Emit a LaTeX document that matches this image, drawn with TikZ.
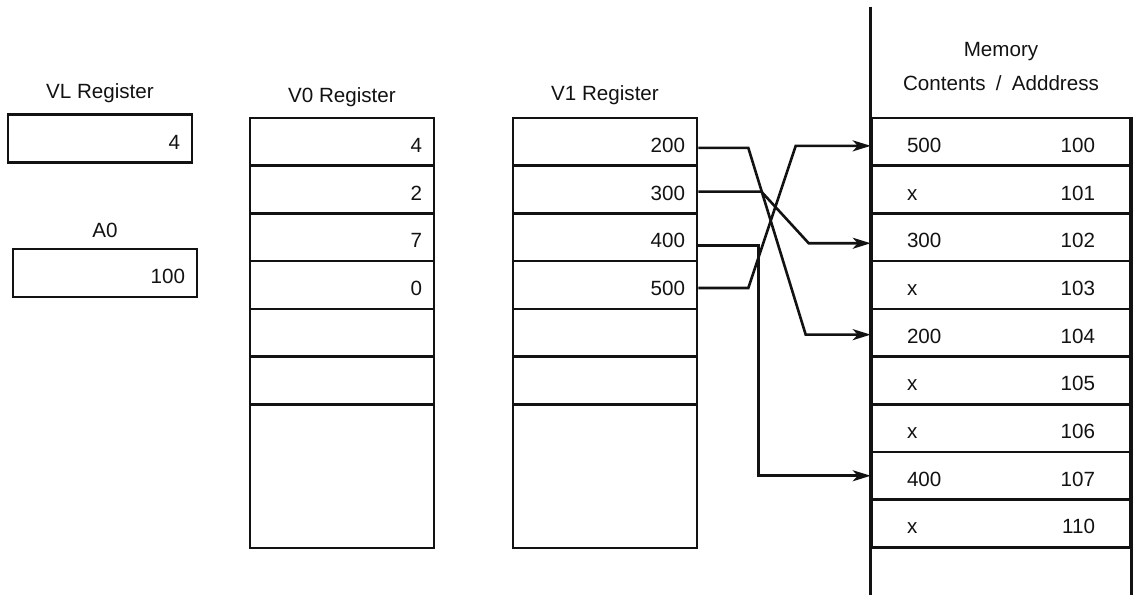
\documentclass[tikz,border=0pt]{standalone}
\usepackage{fontspec}
\setmainfont{Liberation Sans}
\usetikzlibrary{arrows.meta,positioning}
\definecolor{VecInk}{RGB}{18,18,18}
\tikzset{
  vec/cell/.style={
    draw=VecInk,
    line width=1.3pt,
    rectangle,
    minimum width=92pt,
    minimum height=23.85pt,
    text width=80pt,
    align=right,
    inner xsep=6pt,
    inner ysep=0pt,
    text height=10.5pt,
    text depth=0pt,
    text=VecInk,
    font=\fontsize{10.3}{12}\selectfont
  },
  vec/tallcell/.style={
    vec/cell,
    minimum height=95.9pt
  },
  vec/memcell/.style={
    vec/cell,
    minimum width=129pt,
    text width=94pt,
    inner xsep=17.5pt,
    align=left
  },
  vec/frame/.style={draw=VecInk, line width=1.3pt},
  vec/arrow/.style={-{Stealth[length=9pt,width=5.5pt,inset=2.5pt]}, line width=1.3pt, draw=VecInk},
  vec/title/.style={font=\fontsize{10.3}{12}\selectfont, text=VecInk, align=center, inner sep=1pt}
}

\begin{document}
\begin{tikzpicture}[x=0.5pt,y=-0.5pt]
  \useasboundingbox (0,0) rectangle (1133,595);

  % scalar registers
  \node[vec/cell] (vl) at (100,138.5) {4};
  \node[vec/title,above=4pt of vl] (vltitle) {VL Register};
  \node[vec/cell] (a0) at (105,273) {100};
  \node[vec/title,above=4pt of a0] (a0title) {A0};

  % vector register V0
  \node[vec/cell] (v0r1) at (342,141.85) {4};
  \node[vec/cell] (v0r2) at (342,189.55) {2};
  \node[vec/cell] (v0r3) at (342,237.25) {7};
  \node[vec/cell] (v0r4) at (342,284.95) {0};
  \node[vec/cell] (v0r5) at (342,332.65) {};
  \node[vec/cell] (v0r6) at (342,380.35) {};
  \node[vec/tallcell] (v0rest) at (342,452.1) {};
  \node[vec/title,above=4pt of v0r1] (v0title) {V0 Register};

  % vector register V1
  \node[vec/cell] (v1r1) at (605,141.85) {200};
  \node[vec/cell] (v1r2) at (605,189.55) {300};
  \node[vec/cell] (v1r3) at (605,237.25) {400};
  \node[vec/cell] (v1r4) at (605,284.95) {500};
  \node[vec/cell] (v1r5) at (605,332.65) {};
  \node[vec/cell] (v1r6) at (605,380.35) {};
  \node[vec/tallcell] (v1rest) at (605,452.1) {};
  \node[vec/title,above=5pt of v1r1] (v1title) {V1 Register};

  % memory
  \node[vec/memcell] (m0) at (1001,141.85) {500\hfill 100};
  \node[vec/memcell] (m1) at (1001,189.55) {x\hfill 101};
  \node[vec/memcell] (m2) at (1001,237.25) {300\hfill 102};
  \node[vec/memcell] (m3) at (1001,284.95) {x\hfill 103};
  \node[vec/memcell] (m4) at (1001,332.65) {200\hfill 104};
  \node[vec/memcell] (m5) at (1001,380.35) {x\hfill 105};
  \node[vec/memcell] (m6) at (1001,428.05) {x\hfill 106};
  \node[vec/memcell] (m7) at (1001,475.75) {400\hfill 107};
  \node[vec/memcell] (m8) at (1001,523.45) {x\hfill 110};
  \draw[vec/frame] (m0.north west) ++(0,-110) -- (m0.north west |- 0,595);
  \draw[vec/frame] (m0.north east) -- (m0.north east |- 0,595);
  \node[vec/title] (memtitle) at (1001,52) {Memory};
  \node[vec/title] (memhead) at (1001,83) {Contents\enspace/\enspace Adddress};

  % gather: V1 holds the addresses
  \draw[vec/arrow] ([yshift=-3pt]v1r1.east) -- ++(50,0) -- ([xshift=-32.5pt,yshift=-1pt]m4.west) -- ([yshift=-1pt]m4.west);
  \draw[vec/arrow] ([yshift=-1pt]v1r2.east) -- ++(63,0) -- ([xshift=-31pt,yshift=-3pt]m2.west) -- ([yshift=-3pt]m2.west);
  \draw[vec/arrow] ([yshift=-4pt]v1r3.east) -- ++(60,0) |- (m7.west);
  \draw[vec/arrow] ([yshift=-1.5pt]v1r4.east) -- ++(50,0) -- ([xshift=-37.5pt,yshift=-2pt]m0.west) -- ([yshift=-2pt]m0.west);
\end{tikzpicture}
\end{document}
